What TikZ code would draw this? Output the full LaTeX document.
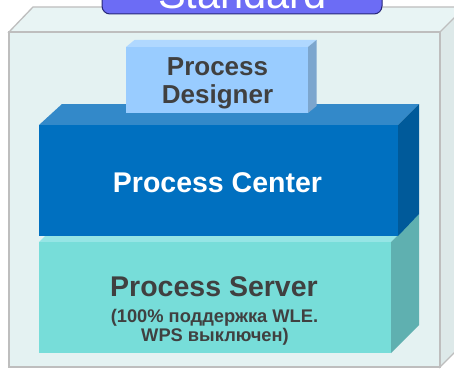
\documentclass[tikz,border=0pt]{standalone}
\usepackage{fontspec}
\setmainfont{Liberation Sans}
\definecolor{outfront}{RGB}{228,242,242}
\definecolor{outtop}{RGB}{232,244,244}
\definecolor{outside}{RGB}{221,233,233}
\definecolor{outline}{RGB}{190,190,190}
\definecolor{desfront}{RGB}{153,204,255}
\definecolor{destop}{RGB}{176,216,255}
\definecolor{desside}{RGB}{124,166,206}
\definecolor{cenfront}{RGB}{0,112,192}
\definecolor{centop}{RGB}{51,137,201}
\definecolor{censide}{RGB}{0,90,154}
\definecolor{serfront}{RGB}{119,221,217}
\definecolor{sertop}{RGB}{149,229,229}
\definecolor{serside}{RGB}{95,176,176}
\definecolor{labfill}{RGB}{108,108,245}
\definecolor{labline}{RGB}{40,40,120}
\definecolor{txtgray}{RGB}{64,64,64}
\tikzset{
  bigtxt/.style={font=\fontsize{26}{28}\selectfont\bfseries, text=txtgray, inner sep=0pt, anchor=base},
  midtxt/.style={font=\fontsize{28.5}{30}\selectfont\bfseries, inner sep=0pt, anchor=base},
  smalltxt/.style={font=\fontsize{18.3}{19}\selectfont\bfseries, text=txtgray, inner sep=0pt, anchor=base},
  facefill/.style={draw=none}
}
\begin{document}
\begin{tikzpicture}[x=1pt,y=-1pt]
\useasboundingbox (0,0) rectangle (454,369);
\clip (0,0) rectangle (454,369);
\fill[white] (0,0) rectangle (454,369);
% outer box
\filldraw[fill=outtop, draw=outline, line width=1.3pt] (9,32) -- (33,7) -- (470,7) -- (446,32) -- cycle;
\filldraw[fill=outside, draw=outline, line width=1.3pt] (440,32) -- (465,7) -- (465,342) -- (440,367) -- cycle;
\filldraw[fill=outfront, draw=outline, line width=1.3pt] (9,32) rectangle (440,367);
% server
\fill[sertop] (39,242) -- (67,214) -- (419,214) -- (391,242) -- cycle;
\fill[serside] (391,242) -- (419,214) -- (419,325) -- (391,353) -- cycle;
\fill[serfront] (39,242) rectangle (391,353);
% center
\fill[centop] (39,125) -- (62,104) -- (419,104) -- (398,125) -- cycle;
\fill[censide] (398,125) -- (419,104) -- (419,214) -- (398,236) -- cycle;
\fill[cenfront] (39,125) rectangle (398,236);
% designer
\fill[destop] (126,47) -- (134.5,40) -- (316.5,40) -- (308,47) -- cycle;
\fill[desside] (308,47) -- (316.5,40) -- (316.5,106) -- (308,113) -- cycle;
\fill[desfront] (126,47) rectangle (308,113);
% label
\filldraw[fill=labfill, draw=labline, line width=1pt, rounded corners=8pt] (102,-40) rectangle (382,14);
% texts
\node[font=\fontsize{41.6}{44}\selectfont, text=white, inner sep=0pt, anchor=base] (std) at (242.5,8.5) {Standard};
\node[bigtxt] (des1) at (217.5,75) {Process};
\node[bigtxt] (des2) at (217.5,103) {Designer};
\node[midtxt, text=white] (cen) at (217.5,192.3) {Process Center};
\node[midtxt, text=txtgray] (ser) at (214,296) {Process Server};
\node[smalltxt] (ser1) at (214.5,322.7) {(100\% поддержка WLE.};
\node[smalltxt] (ser2) at (215,341.7) {WPS выключен)};
\end{tikzpicture}
\end{document}
